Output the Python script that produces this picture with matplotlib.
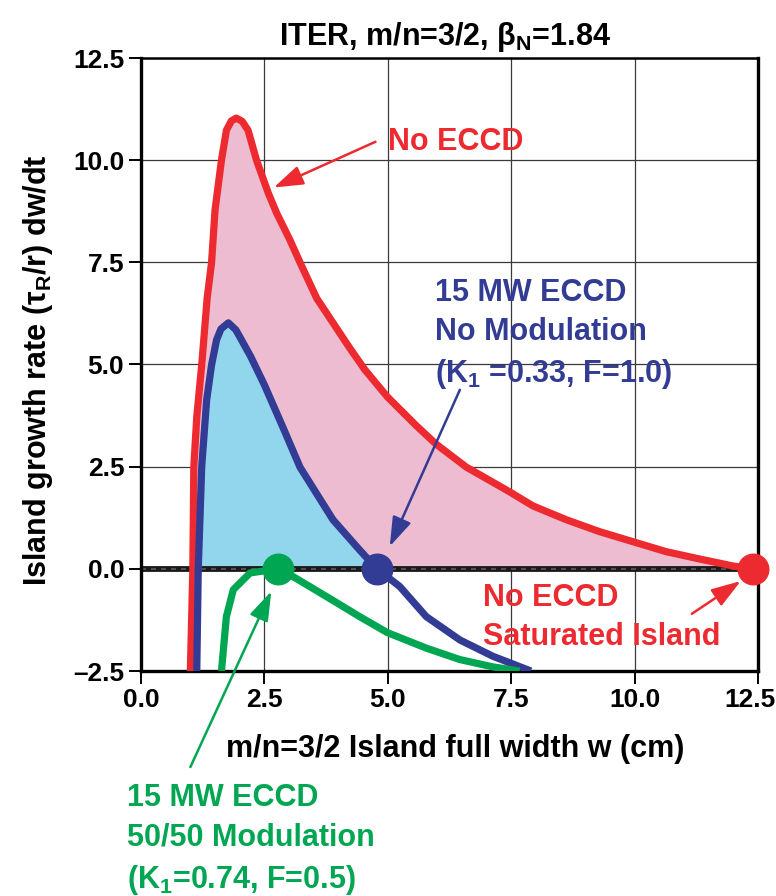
import numpy as np
import matplotlib
matplotlib.use("Agg")
import matplotlib.pyplot as plt
from matplotlib.ticker import FuncFormatter
from matplotlib.transforms import ScaledTranslation

plt.rcParams['font.family'] = ['Liberation Sans', 'DejaVu Sans']
plt.rcParams['font.weight'] = 'bold'
plt.rcParams['mathtext.fontset'] = 'custom'
plt.rcParams['mathtext.rm'] = 'Liberation Sans:bold'
plt.rcParams['mathtext.it'] = 'Liberation Sans:bold'
plt.rcParams['mathtext.bf'] = 'Liberation Sans:bold'
plt.rcParams['mathtext.default'] = 'rm'

# island width w (cm) and growth rate (tau_R/r) dw/dt
red_w = [1.00, 1.05, 1.07, 1.13, 1.23, 1.34, 1.43, 1.50, 1.63, 1.73, 1.83, 1.93, 2.05,
         2.17, 2.34, 2.58, 2.75, 3.02, 3.22, 3.56, 4.23, 4.53, 4.99, 5.58, 5.98, 6.59,
         7.46, 7.94, 8.62, 9.29, 9.95, 10.64, 11.32, 11.99, 12.40]
red_g = [-2.5, 0.0, 2.5, 3.72, 4.99, 6.62, 7.5, 8.78, 10.0, 10.73, 10.96, 11.03, 10.95,
         10.73, 10.0, 9.19, 8.70, 8.04, 7.5, 6.62, 5.40, 4.88, 4.21, 3.50, 3.05, 2.49,
         1.89, 1.54, 1.20, 0.91, 0.67, 0.42, 0.24, 0.07, 0.0]

blue_w = [1.13, 1.16, 1.23, 1.33, 1.43, 1.53, 1.62, 1.77, 1.92, 2.00, 2.22, 2.50, 2.88,
          3.22, 3.89, 4.43, 4.78, 5.24, 5.78, 6.46, 7.13, 7.90]
blue_g = [-2.5, 0.0, 2.5, 4.13, 4.99, 5.60, 5.87, 6.02, 5.85, 5.68, 5.20, 4.50, 3.45,
          2.49, 1.20, 0.46, 0.0, -0.43, -1.17, -1.74, -2.14, -2.5]

green_w = [1.63, 1.73, 1.87, 2.21, 2.78, 3.08, 3.76, 4.43, 4.99, 5.78, 6.46, 7.13, 7.67]
green_g = [-2.5, -1.17, -0.51, -0.10, 0.0, -0.19, -0.68, -1.17, -1.56, -1.94, -2.22, -2.40, -2.5]

# marginal points (dw/dt = 0)
red_sat = (12.40, 0.0)
blue_marg = (4.78, 0.0)
green_marg = (2.78, 0.0)

x_ticks = [0.0, 2.5, 5.0, 7.5, 10.0, 12.5]
y_ticks = [-2.5, 0.0, 2.5, 5.0, 7.5, 10.0, 12.5]

RED = '#EC2A2F'
NAVY = '#323C94'
GREEN = '#00A651'
PINK = '#EDBCD0'
SKY = '#92D6EE'
FS = 22

fig = plt.figure(figsize=(7.76, 8.96), dpi=100)
ax = fig.add_axes([141 / 776, 1 - 671 / 896, 617 / 776, 613 / 896])

ax.set_xlim(0, 12.5)
ax.set_ylim(-2.5, 12.5)

# shaded growth regions
ax.fill_between(red_w, 0, np.clip(red_g, 0, None), color=PINK, lw=0, zorder=1)
ax.fill_between(blue_w, 0, np.clip(blue_g, 0, None), color=SKY, lw=0, zorder=1.5)

ax.grid(True, color='#3a3a3a', lw=0.9, zorder=0.5)
ax.set_axisbelow(True)

# dw/dt = 0 line
ax.axhline(0, color='#1a1a1a', lw=4.2, zorder=2)
ax.axhline(0, color='#5a5a5a', lw=1.2, dashes=(3, 3), zorder=2.1)

lw = 5.2
ax.plot(red_w, red_g, color=RED, lw=lw, solid_joinstyle='round', solid_capstyle='butt', zorder=3)
ax.plot(blue_w, blue_g, color=NAVY, lw=lw, solid_joinstyle='round', solid_capstyle='butt', zorder=3)
ax.plot(green_w, green_g, color=GREEN, lw=lw, solid_joinstyle='round', solid_capstyle='butt', zorder=3)

ax.plot(*red_sat, 'o', color=RED, ms=22, zorder=4, clip_on=False)
ax.plot(*blue_marg, 'o', color=NAVY, ms=22, zorder=4, clip_on=False)
ax.plot(*green_marg, 'o', color=GREEN, ms=22, zorder=4, clip_on=False)

# axes styling
for side in ['left', 'bottom', 'right']:
    ax.spines[side].set_linewidth(2.4)
ax.spines['top'].set_linewidth(1.8)
ax.set_xticks(x_ticks)
ax.set_yticks(y_ticks)
fmt = FuncFormatter(lambda v, p: f"{v:.1f}".replace('-', '\u2013'))
ax.xaxis.set_major_formatter(fmt)
ax.yaxis.set_major_formatter(fmt)
ax.tick_params(direction='out', length=9, width=1.4, labelsize=19, pad=3)
for lab in ax.get_xticklabels() + ax.get_yticklabels():
    lab.set_fontweight('bold')
# keep the last x tick label inside the figure edge
last = ax.get_xticklabels()[-1]
last.set_transform(last.get_transform() + ScaledTranslation(-0.08, 0, fig.dpi_scale_trans))

fig.text(445 / 776, 1 - 45 / 896, r'ITER, m/n=3/2, β$_\mathrm{N}$=1.84',
         ha='center', va='baseline', fontsize=FS, fontweight='bold')
fig.text(38 / 776, 1 - 370 / 896, r'Island growth rate (τ$_\mathrm{R}$/r) dw/dt',
         ha='center', va='center', rotation=90, fontsize=FS, fontweight='bold')
fig.text(455 / 776, 1 - 757 / 896, 'm/n=3/2 Island full width w (cm)',
         ha='center', va='baseline', fontsize=FS, fontweight='bold')

# labels and arrows
arrow_kw = dict(arrowstyle='-|>,head_length=0.9,head_width=0.3', lw=1.8, mutation_scale=20,
                shrinkA=0, shrinkB=0)

ax.text(5.0, 10.24, 'No ECCD', color=RED, fontsize=FS, fontweight='bold', va='baseline')
ax.annotate('', xy=(2.69, 9.33), xytext=(4.75, 10.45),
            arrowprops=dict(color=RED, **arrow_kw), zorder=5)

ax.text(5.95, 4.57, '15 MW ECCD\nNo Modulation\n(K$_1$ =0.33, F=1.0)', color=NAVY,
        fontsize=FS, fontweight='bold', va='baseline', linespacing=1.4)
ax.annotate('', xy=(5.04, 0.55), xytext=(6.46, 4.38),
            arrowprops=dict(color=NAVY, **arrow_kw), zorder=5)

ax.text(6.92, -1.86, 'No ECCD\nSaturated Island', color=RED, fontsize=FS,
        fontweight='bold', va='baseline', linespacing=1.4)
ax.annotate('', xy=(12.15, -0.3), xytext=(11.16, -1.1),
            arrowprops=dict(color=RED, **arrow_kw), zorder=5)

ax.text(-0.28, -7.80, '15 MW ECCD\n50/50 Modulation\n(K$_1$=0.74, F=0.5)', color=GREEN,
        fontsize=FS, fontweight='bold', va='baseline', linespacing=1.4, clip_on=False)
ax.annotate('', xy=(2.64, -0.55), xytext=(1.0, -4.85), annotation_clip=False,
            arrowprops=dict(color=GREEN, clip_on=False, **arrow_kw), zorder=5)

fig.savefig('out.png', dpi=100)
